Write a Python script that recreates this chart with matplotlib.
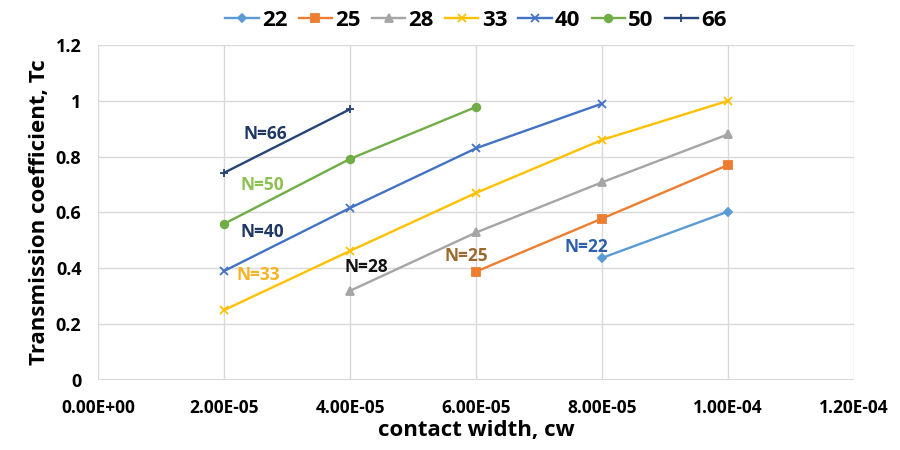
import matplotlib
matplotlib.use("Agg")
import matplotlib.pyplot as plt
from matplotlib.ticker import FuncFormatter

plt.rcParams["font.family"] = ["Open Sans", "DejaVu Sans"]

# contact width (m) and transmission coefficient for each N
CW = [2e-5, 4e-5, 6e-5, 8e-5, 1e-4]
N22 = [0.437, 0.603]
N25 = [0.388, 0.578, 0.770]
N28 = [0.319, 0.528, 0.708, 0.880]
N33 = [0.250, 0.462, 0.670, 0.860, 1.000]
N40 = [0.390, 0.616, 0.830, 0.990]
N50 = [0.559, 0.792, 0.978]
N66 = [0.742, 0.970]

series = [
    ("22", CW[3:], N22, "#5B9BD5", "D", 4.5),
    ("25", CW[2:], N25, "#ED7D31", "s", 5.5),
    ("28", CW[1:], N28, "#A5A5A5", "^", 5.5),
    ("33", CW, N33, "#FFC000", "x", 5.5),
    ("40", CW[:4], N40, "#4472C4", "x", 5.5),
    ("50", CW[:3], N50, "#70AD47", "o", 5.5),
    ("66", CW[:2], N66, "#264478", "+", 5.5),
]

labels = [
    ("N=66", 2.65e-5, 0.88, "#1F3864"),
    ("N=50", 2.6e-5, 0.70, "#8CC152"),
    ("N=40", 2.6e-5, 0.53, "#1F3864"),
    ("N=33", 2.55e-5, 0.375, "#F5B324"),
    ("N=28", 4.25e-5, 0.405, "#111111"),
    ("N=25", 5.85e-5, 0.445, "#9C6A2E"),
    ("N=22", 7.75e-5, 0.475, "#2E5FA8"),
]

fig = plt.figure(figsize=(9, 4.5), dpi=100)
ax = fig.add_axes([0.109, 0.156, 0.84, 0.744])

for name, x, y, c, m, ms in series:
    ax.plot(x, y, color=c, marker=m, markersize=ms, lw=1.7, label=name,
            markeredgewidth=1.3)

for txt, x, y, c in labels:
    ax.text(x, y, txt, color=c, fontsize=12.5, fontweight="bold", ha="center", va="center")

ax.set_xlim(0, 1.2e-4)
ax.set_ylim(0, 1.2)
ax.set_xticks([0, 2e-5, 4e-5, 6e-5, 8e-5, 1e-4, 1.2e-4])
ax.set_yticks([0, 0.2, 0.4, 0.6, 0.8, 1.0, 1.2])
ax.xaxis.set_major_formatter(FuncFormatter(lambda v, p: f"{v:.2E}"))
ax.yaxis.set_major_formatter(FuncFormatter(lambda v, p: f"{v:g}"))
ax.tick_params(axis="x", length=0, labelsize=12.5, pad=14)
ax.tick_params(axis="y", length=0, labelsize=13, pad=12)
for lab in ax.get_xticklabels() + ax.get_yticklabels():
    lab.set_fontweight("bold")
ax.grid(True, color="#D9D9D9", lw=1)
ax.set_axisbelow(True)
for s in ax.spines.values():
    s.set_visible(False)
ax.axhline(0, color="#D0D0D0", lw=1.2, zorder=0)

ax.set_xlabel("contact width, cw", fontsize=16, fontweight="bold", labelpad=2)
ax.set_ylabel("Transmission coefficient, Tc", fontsize=16, fontweight="bold", labelpad=4)

ax.legend(loc="lower center", bbox_to_anchor=(0.5, 1.0), ncol=7, frameon=False,
          prop={"weight": "bold", "size": 16}, handlelength=1.5, columnspacing=0.5,
          handletextpad=0.15, borderaxespad=0.25)

fig.savefig("out.png", dpi=100)
